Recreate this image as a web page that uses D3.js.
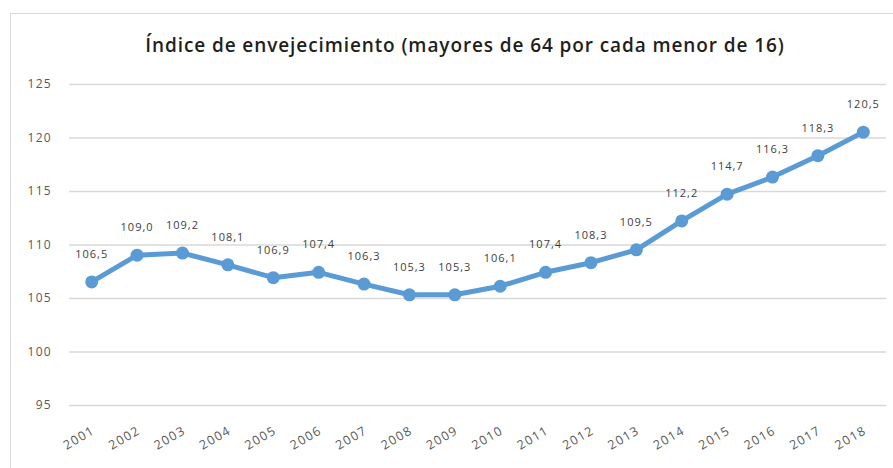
<!DOCTYPE html>
<html>
<head>
<meta charset="utf-8">
<script src="https://cdn.jsdelivr.net/npm/d3@7"></script>
<style>
  body { margin: 0; background: #fff; }
  text { font-family: "Open Sans", "DejaVu Sans", sans-serif; }
</style>
</head>
<body>
<div id="chart"></div>
<script>
// Data
var years = ["2001", "2002", "2003", "2004", "2005", "2006", "2007", "2008", "2009",
             "2010", "2011", "2012", "2013", "2014", "2015", "2016", "2017", "2018"];
var indice = [106.5, 109.0, 109.2, 108.1, 106.9, 107.4, 106.3, 105.3, 105.3,
              106.1, 107.4, 108.3, 109.5, 112.2, 114.7, 116.3, 118.3, 120.5];
var yTicks = [95, 100, 105, 110, 115, 120, 125];
var title = "Índice de envejecimiento (mayores de 64 por cada menor de 16)";

var width = 893, height = 468;
var margin = {top: 84, right: 7, bottom: 63, left: 69};

var svg = d3.select("#chart")
  .append("svg")
    .attr("width", width)
    .attr("height", height);

// chart area border (only top and left show inside the frame)
svg.append("rect")
    .attr("x", 10.5)
    .attr("y", 13.5)
    .attr("width", 900)
    .attr("height", 500)
    .attr("fill", "none")
    .attr("stroke", "#d9d9d9");

var x = d3.scaleBand()
    .domain(years)
    .range([margin.left, width - margin.right]);

var y = d3.scaleLinear()
    .domain([95, 125])
    .range([height - margin.bottom, margin.top]);

// gridlines + y labels
var yAxis = svg.append("g")
    .attr("transform", "translate(" + margin.left + ",0)")
    .call(d3.axisLeft(y)
      .tickValues(yTicks)
      .tickSize(-(width - margin.left - margin.right))
      .tickPadding(17));

yAxis.select(".domain").remove();
yAxis.selectAll(".tick line")
    .attr("stroke", "#d9d9d9")
    .attr("stroke-width", 1.3);
yAxis.selectAll(".tick text")
    .attr("fill", "#595959")
    .style("font-size", "12px")
    .style("letter-spacing", "1.3px");

// x labels, rotated
svg.append("g")
  .selectAll("text")
  .data(years)
  .enter()
  .append("text")
    .attr("transform", function(d) {
      return "translate(" + (x(d) + x.bandwidth() / 2 + 4) + "," + (height - margin.bottom + 28) + ") rotate(-30)";
    })
    .attr("text-anchor", "end")
    .attr("fill", "#595959")
    .style("font-size", "12.5px")
    .style("letter-spacing", "1.3px")
    .text(function(d) { return d; });

var pts = years.map(function(d, i) { return {year: d, value: indice[i]}; });

var line = d3.line()
    .x(function(d) { return x(d.year) + x.bandwidth() / 2; })
    .y(function(d) { return y(d.value); });

svg.append("path")
    .datum(pts)
    .attr("fill", "none")
    .attr("stroke", "#5b9bd5")
    .attr("stroke-width", 5)
    .attr("stroke-linejoin", "round")
    .attr("d", line);

svg.append("g")
  .selectAll("circle")
  .data(pts)
  .enter()
  .append("circle")
    .attr("cx", function(d) { return x(d.year) + x.bandwidth() / 2; })
    .attr("cy", function(d) { return y(d.value); })
    .attr("r", 6.5)
    .attr("fill", "#5b9bd5");

// data labels
var fmt = function(v) { return v.toFixed(1).replace(".", ","); };
svg.append("g")
  .selectAll("text")
  .data(pts)
  .enter()
  .append("text")
    .attr("x", function(d) { return x(d.year) + x.bandwidth() / 2; })
    .attr("y", function(d) { return y(d.value) - 24; })
    .attr("text-anchor", "middle")
    .attr("fill", "#404040")
    .style("font-size", "11px")
    .style("letter-spacing", "1px")
    .text(function(d) { return fmt(d.value); });

// title
svg.append("text")
    .attr("x", 465)
    .attr("y", 52)
    .attr("text-anchor", "middle")
    .attr("fill", "#1f1f1f")
    .style("font-size", "19px")
    .style("font-weight", "600")
    .style("letter-spacing", "0.9px")
    .text(title);
</script>
</body>
</html>
